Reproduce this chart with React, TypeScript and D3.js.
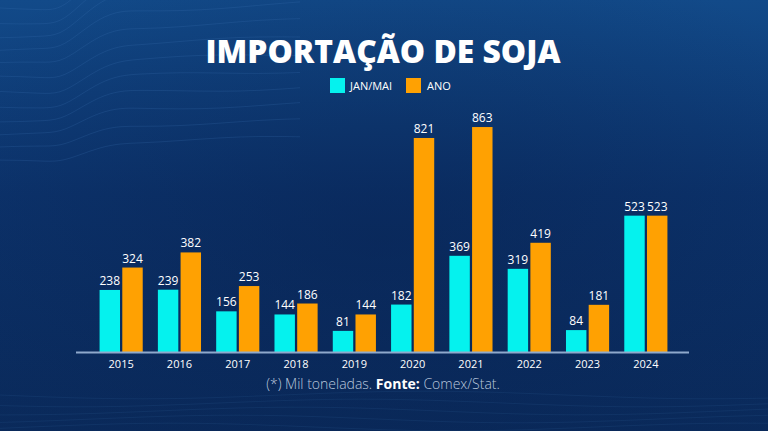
import React from "react";
import * as d3 from "d3";

const years = ["2015", "2016", "2017", "2018", "2019", "2020", "2021", "2022", "2023", "2024"];
const janMai = [238, 239, 156, 144, 81, 182, 369, 319, 84, 523];
const ano = [324, 382, 253, 186, 144, 821, 863, 419, 181, 523];
const seriesKeys = ["JAN/MAI", "ANO"];
const seriesColors = ["#05f2ee", "#ffa102"];
const title = "IMPORTAÇÃO DE SOJA";

const W = 768;
const H = 431;

export default function App() {
  const x0 = d3.scaleBand<string>().domain(years).range([92, 675]).paddingInner(0.26).paddingOuter(0.13);
  const x1 = d3.scaleBand<string>().domain(seriesKeys).range([0, x0.bandwidth()]).paddingInner(0.1);
  const y = d3.scaleLinear().domain([0, 890]).range([352, 120]);

  const data = years.map((yr, i) => ({ yr, vals: [janMai[i], ano[i]] }));

  const lineGen = d3.line<[number, number]>().curve(d3.curveBasis);
  const contours: string[] = [];
  for (let k = 0; k < 12; k++) {
    const pts: [number, number][] = [];
    const base = 8 + k * 14;
    for (let xx = -20; xx <= 300; xx += 20) {
      const bend = xx > 60 && xx < 110 ? (xx - 60) * 0.9 : xx >= 110 ? 45 + (xx - 110) * 0.05 : 0;
      pts.push([xx, base - bend * (1 - k * 0.05) + Math.sin(xx / 40 + k) * 2]);
    }
    contours.push(lineGen(pts) || "");
  }
  const bottomLines: string[] = [];
  for (let k = 0; k < 6; k++) {
    const pts: [number, number][] = [];
    const base = 395 + k * 8;
    for (let xx = 0; xx <= 768; xx += 48) {
      pts.push([xx, base + Math.sin(xx / 90 + k * 0.7) * 4]);
    }
    bottomLines.push(lineGen(pts) || "");
  }

  return (
    <svg width={W} height={H} style={{ position: "fixed", left: 0, top: 0 }} xmlns="http://www.w3.org/2000/svg">
      <defs>
        <linearGradient id="bg" x1="0" y1="0" x2="0" y2="1">
          <stop offset="0%" stopColor="#124a89" />
          <stop offset="45%" stopColor="#0c336c" />
          <stop offset="100%" stopColor="#0a2a5b" />
        </linearGradient>
        <radialGradient id="vig" cx="0.5" cy="0.55" r="0.7">
          <stop offset="0%" stopColor="#071f4c" stopOpacity="0.45" />
          <stop offset="100%" stopColor="#071f4c" stopOpacity="0" />
        </radialGradient>
      </defs>
      <rect x={0} y={0} width={W} height={H} fill="url(#bg)" />
      <rect x={0} y={0} width={W} height={H} fill="url(#vig)" />
      {contours.map((d, i) => (
        <path key={"c" + i} d={d} fill="none" stroke="#3f78b8" strokeOpacity={0.2} strokeWidth={1} />
      ))}
      {bottomLines.map((d, i) => (
        <path key={"b" + i} d={d} fill="none" stroke="#3f78b8" strokeOpacity={0.12} strokeWidth={1} />
      ))}

      <text
        x={383}
        y={63}
        textAnchor="middle"
        fill="#ffffff"
        fontFamily="'Open Sans', sans-serif"
        fontWeight={800}
        fontSize={31}
        textLength={355}
        lengthAdjust="spacingAndGlyphs"
      >
        {title}
      </text>

      <g fontFamily="'Open Sans', sans-serif" fontSize={11} fill="#ffffff" fontWeight={500}>
        <rect x={330} y={78} width={15} height={15} fill={seriesColors[0]} />
        <text x={350} y={90}>{seriesKeys[0]}</text>
        <rect x={406} y={78} width={15} height={15} fill={seriesColors[1]} />
        <text x={427} y={90}>{seriesKeys[1]}</text>
      </g>

      {data.map((d) => (
        <g key={d.yr} transform={`translate(${x0(d.yr)},0)`}>
          {d.vals.map((v, j) => {
            const bx = x1(seriesKeys[j]) as number;
            const bw = x1.bandwidth();
            return (
              <g key={j}>
                <rect x={bx} y={y(v)} width={bw} height={y(0) - y(v)} fill={seriesColors[j]} />
                <text
                  x={bx + bw / 2}
                  y={y(v) - 5}
                  textAnchor="middle"
                  fill="#ffffff"
                  fontFamily="'Open Sans', sans-serif"
                  fontWeight={500}
                  fontSize={12}
                >
                  {v}
                </text>
              </g>
            );
          })}
          <text
            x={x0.bandwidth() / 2}
            y={368}
            textAnchor="middle"
            fill="#ffffff"
            fontFamily="'Open Sans', sans-serif"
            fontWeight={500}
            fontSize={11}
          >
            {d.yr}
          </text>
        </g>
      ))}

      <line x1={76} x2={689} y1={352.5} y2={352.5} stroke="#8fa9cc" strokeWidth={2} />

      <text x={383} y={389} textAnchor="middle" fontFamily="'Open Sans', sans-serif" fontSize={14} fill="#b9c7dc">
        <tspan fontWeight={300}>(*) Mil toneladas. </tspan>
        <tspan fontWeight={700} fill="#ffffff">Fonte:</tspan>
        <tspan fontWeight={300}> Comex/Stat.</tspan>
      </text>
    </svg>
  );
}
